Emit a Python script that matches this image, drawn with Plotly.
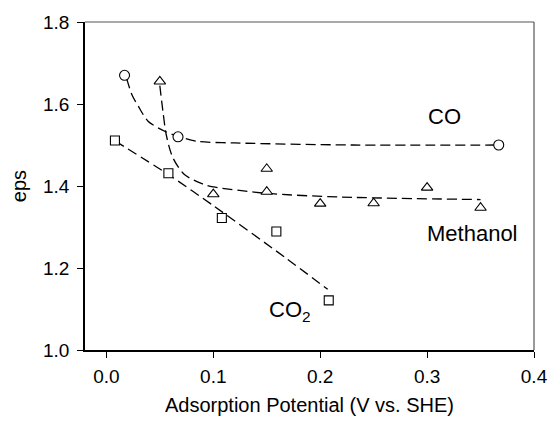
import plotly.graph_objects as go

# Measured points
co_x = [0.017, 0.067, 0.367]
co_y = [1.67, 1.52, 1.50]

meoh_x = [0.05, 0.10, 0.15, 0.15, 0.20, 0.25, 0.30, 0.35]
meoh_y = [1.655, 1.38, 1.442, 1.386, 1.357, 1.358, 1.396, 1.347]

co2_x = [0.008, 0.058, 0.108, 0.159, 0.208]
co2_y = [1.511, 1.431, 1.322, 1.289, 1.121]

# Trend curves (dashed)
co_fit_x = [0.019, 0.024, 0.030, 0.039, 0.055, 0.067, 0.085, 0.12, 0.23, 0.363]
co_fit_y = [1.662, 1.622, 1.594, 1.558, 1.533, 1.521, 1.509, 1.505, 1.500, 1.500]

meoh_fit_x = [0.050, 0.053, 0.056, 0.062, 0.073, 0.090, 0.100, 0.150, 0.220, 0.350]
meoh_fit_y = [1.645, 1.580, 1.525, 1.470, 1.428, 1.405, 1.398, 1.382, 1.373, 1.367]

co2_fit_x = [0.008, 0.058, 0.100, 0.167, 0.207]
co2_fit_y = [1.510, 1.428, 1.352, 1.226, 1.148]

FONT = "Liberation Sans, Arial, sans-serif"
DASH = "10px,5px"

fig = go.Figure()

for fx, fy in [(co_fit_x, co_fit_y), (meoh_fit_x, meoh_fit_y), (co2_fit_x, co2_fit_y)]:
    fig.add_trace(go.Scatter(
        x=fx, y=fy, mode="lines",
        line=dict(color="black", width=1.3, dash=DASH, shape="spline", smoothing=0.8),
        hoverinfo="skip", showlegend=False,
    ))

marker_common = dict(color="white", line=dict(color="black", width=1.1))
fig.add_trace(go.Scatter(x=co_x, y=co_y, mode="markers", name="CO",
                         marker=dict(symbol="circle", size=10, **marker_common)))
fig.add_trace(go.Scatter(x=meoh_x, y=meoh_y, mode="markers", name="Methanol",
                         marker=dict(symbol="triangle-up", size=10, **marker_common)))
fig.add_trace(go.Scatter(x=co2_x, y=co2_y, mode="markers", name="CO2",
                         marker=dict(symbol="square", size=9, **marker_common)))

# Curve labels
labels = [("CO", 0.316, 1.570), ("Methanol", 0.342, 1.284), ("CO<sub>2</sub>", 0.172, 1.096)]
for text, x, y in labels:
    fig.add_annotation(x=x, y=y, text=text, showarrow=False,
                       font=dict(family=FONT, size=22, color="black"))

# Top and right frame lines
fig.add_shape(type="line", xref="paper", yref="paper", x0=0, x1=1, y0=1, y1=1,
              line=dict(color="#555555", width=1.2))
fig.add_shape(type="line", xref="paper", yref="paper", x0=1, x1=1, y0=0, y1=1,
              line=dict(color="#555555", width=1.2))

fig.update_layout(
    width=560, height=425,
    margin=dict(l=85, r=15, t=20, b=75),
    plot_bgcolor="white", paper_bgcolor="white",
    showlegend=False,
    font=dict(family=FONT, size=18, color="black"),
    xaxis=dict(
        range=[-0.02, 0.4], tickvals=[0.0, 0.1, 0.2, 0.3, 0.4],
        ticktext=["0.0", "0.1", "0.2", "0.3", "0.4"],
        tickfont=dict(size=19), ticklabelstandoff=2,
        showgrid=False, zeroline=False,
        showline=True, linecolor="black", linewidth=1.5,
        ticks="outside", ticklen=6, tickwidth=1.2, tickcolor="black",
        title=dict(text="Adsorption Potential (V vs. SHE)", font=dict(size=20), standoff=12),
    ),
    yaxis=dict(
        range=[1.0, 1.8], tickvals=[1.0, 1.2, 1.4, 1.6, 1.8],
        ticktext=["1.0", "1.2", "1.4", "1.6", "1.8"],
        tickfont=dict(size=19), ticklabelstandoff=4,
        showgrid=False, zeroline=False,
        showline=True, linecolor="black", linewidth=1.5,
        ticks="outside", ticklen=6, tickwidth=1.2, tickcolor="black",
        title=dict(text="eps", font=dict(size=20), standoff=11),
    ),
)

fig.write_html("out.html")
